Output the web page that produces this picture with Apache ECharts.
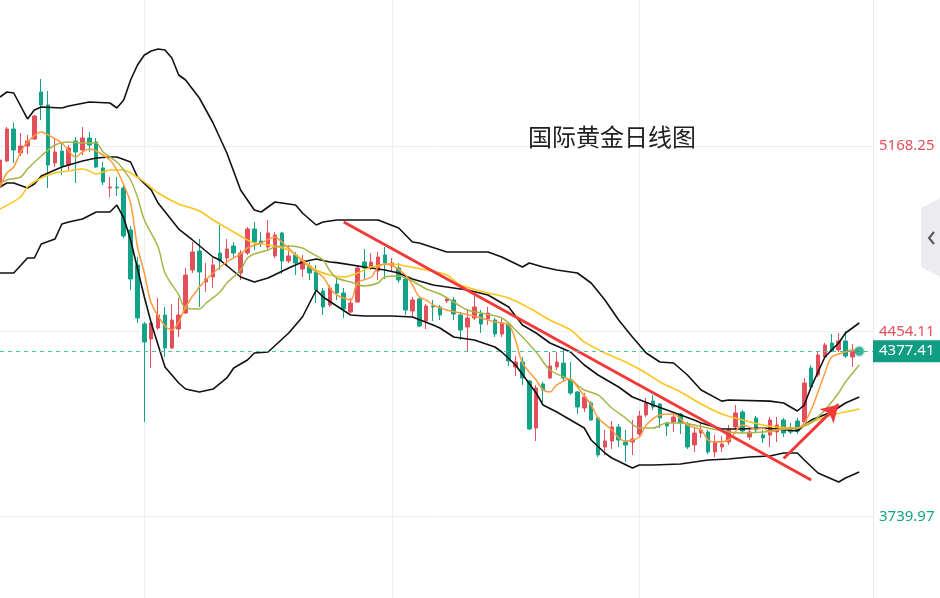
<!DOCTYPE html>
<html>
<head>
<meta charset="utf-8">
<script src="https://cdn.jsdelivr.net/npm/echarts@6/dist/echarts.min.js"></script>
<style>html,body{margin:0;padding:0;background:#fff}#c{width:940px;height:598px}</style>
</head>
<body>
<div id="c"></div>
<script>
// ---- data ----
const title = '国际黄金日线图';
const priceTicks = [3739.97, 4454.11, 5168.25];
const lastPrice = 4377.41;
// [open, close, low, high]
const ohlc = [
[5010.9,5115.0,5007.0,5122.7],[5111.2,5234.6,5107.3,5242.3],[5234.6,5153.6,5103.4,5257.8],[5142.0,5169.0,5130.5,5219.2],
[5169.0,5188.3,5138.2,5211.5],[5196.0,5284.8,5192.2,5288.6],[5377.4,5327.2,5269.3,5427.5],[5327.2,5095.7,5007.0,5381.2],
[5103.4,5145.9,5088.0,5199.9],[5149.7,5091.9,5057.2,5184.5],[5095.7,5161.3,5076.4,5172.9],[5188.3,5145.9,5026.3,5203.8],
[5153.6,5199.9,5134.3,5242.3],[5199.9,5172.9,5145.9,5223.1],[5184.5,5088.0,5084.2,5199.9],[5084.2,5030.1,5018.6,5107.3],
[5007.0,5010.9,4972.3,5049.4],[5010.9,5007.0,4976.1,5049.4],[5007.0,4821.8,4814.1,5022.4],[4845.0,4656.0,4613.5,4860.4],
[4709.9,4505.5,4486.2,4740.8],[4482.3,4412.9,4104.2,4490.0],[4424.4,4486.2,4312.6,4490.0],[4466.9,4517.0,4459.2,4582.6],
[4517.0,4389.7,4355.0,4547.9],[4389.7,4497.7,4385.9,4559.5],[4463.0,4517.0,4432.2,4582.6],[4524.7,4671.4,4520.9,4698.4],
[4690.6,4760.1,4679.1,4798.7],[4763.9,4682.9,4547.9,4810.2],[4644.3,4655.9,4605.8,4717.7],[4663.6,4709.9,4621.2,4737.0],
[4756.2,4725.4,4690.6,4864.2],[4737.0,4771.7,4709.9,4810.2],[4783.2,4756.2,4740.8,4798.7],[4679.1,4756.2,4652.1,4767.8],
[4756.2,4848.8,4748.5,4856.5],[4848.8,4798.7,4767.8,4875.8],[4802.5,4794.8,4779.4,4837.2],[4779.4,4833.4,4771.7,4883.5],
[4744.7,4825.7,4737.0,4837.2],[4833.4,4725.4,4675.2,4837.2],[4725.4,4744.7,4717.7,4787.1],[4748.5,4717.7,4671.4,4760.1],
[4694.5,4729.2,4663.6,4748.5],[4706.1,4679.1,4652.1,4721.5],[4682.9,4613.5,4563.3,4709.9],[4609.6,4547.9,4517.0,4621.2],
[4555.6,4621.2,4547.9,4632.8],[4636.6,4602.0,4574.9,4663.6],[4602.0,4540.2,4505.5,4621.2],[4528.6,4563.3,4524.7,4582.6],
[4567.2,4698.4,4563.3,4706.1],[4721.5,4698.4,4655.9,4771.7],[4698.4,4721.5,4690.6,4756.2],[4686.8,4740.8,4652.1,4760.1],
[4748.5,4717.7,4655.9,4779.4],[4706.1,4717.7,4682.9,4737.0],[4698.4,4652.1,4640.5,4717.7],[4655.9,4536.3,4517.0,4663.6],
[4532.5,4574.9,4505.5,4586.5],[4578.8,4474.6,4470.7,4586.5],[4493.9,4551.8,4463.0,4559.5],[4551.8,4547.9,4493.9,4574.9],
[4547.9,4517.0,4497.7,4555.6],[4571.0,4578.8,4563.3,4586.5],[4574.9,4520.9,4497.7,4586.5],[4517.0,4459.2,4420.6,4528.6],
[4470.7,4505.5,4374.3,4536.3],[4505.5,4547.9,4497.7,4590.3],[4520.9,4482.3,4447.6,4536.3],[4501.6,4524.7,4478.5,4547.9],
[4497.7,4443.7,4432.2,4505.5],[4443.7,4486.2,4432.2,4501.6],[4482.3,4339.6,4320.3,4490.0],[4316.4,4335.7,4281.7,4358.9],
[4335.7,4274.0,4247.0,4355.0],[4262.4,4077.2,4073.4,4266.3],[4081.1,4235.4,4030.9,4247.0],[4250.9,4227.7,4181.4,4258.6],
[4274.0,4320.3,4270.2,4374.3],[4316.4,4335.7,4304.8,4374.3],[4331.8,4274.0,4258.6,4389.7],[4266.3,4216.1,4208.4,4335.7],
[4220.0,4162.1,4135.1,4223.8],[4158.2,4200.7,4142.8,4216.1],[4177.5,4111.9,4108.1,4185.2],[4119.6,3976.9,3969.2,4123.5],
[4007.8,4030.9,3976.9,4073.4],[4030.9,4085.0,4000.1,4108.1],[4085.0,4034.8,4007.8,4096.5],[4027.1,4015.5,3950.0,4073.4],
[4027.1,4038.7,3976.9,4111.9],[4057.9,4127.4,4050.2,4146.7],[4131.2,4177.5,4123.5,4196.8],[4185.2,4162.1,4150.5,4208.4],
[4173.7,4119.6,4081.1,4177.5],[4100.4,4088.8,4050.2,4104.2],[4104.2,4123.5,4065.6,4135.1],[4135.1,4100.4,4057.9,4139.0],
[4096.5,4007.8,4000.1,4104.2],[4015.5,4061.8,3988.5,4085.0],[4061.8,4073.4,4042.5,4104.2],[4065.6,3988.5,3980.8,4073.4],
[3988.5,4027.1,3969.2,4054.1],[4007.8,4019.3,3988.5,4050.2],[4027.1,4073.4,4015.5,4092.7],[4085.0,4139.0,4073.4,4169.8],
[4142.8,4069.5,4061.8,4150.5],[4046.3,4065.6,4034.8,4085.0],[4119.6,4073.4,4061.8,4127.4],[4054.1,4042.5,4023.2,4073.4],
[4054.1,4111.9,4007.8,4123.5],[4065.6,4092.7,4027.1,4123.5],[4111.9,4061.8,4046.3,4119.6],[4073.4,4065.6,4057.9,4100.4],
[4108.1,4069.5,4057.9,4119.6],[4104.2,4254.7,4100.4,4274.0],[4312.6,4239.3,4235.4,4324.1],[4285.6,4362.7,4277.9,4378.1],
[4355.0,4401.3,4351.1,4409.0],[4409.0,4378.1,4374.3,4443.7],[4382.0,4416.7,4374.3,4447.6],[4416.7,4358.9,4351.1,4454.11],
[4355.0,4377.41,4316.4,4405.1]
];
// indicator lines: [candle index, price]
const bollUpper = [[0,5358.1],[1,5377.4],[2,5373.5],[4,5273.2],[5,5307.9],[6,5319.5],[9,5315.6],[10,5323.4],[13,5338.8],[16,5334.9],[17,5315.6],[18,5346.5],[19,5423.7],[20,5481.5],[21,5520.1],[22,5535.5],[23,5543.2],[24,5539.4],[25,5508.5],[26,5443.0],[27,5423.7],[29,5354.2],[31,5257.8],[33,5142.0],[35,4999.3],[37,4922.1],[38,4914.4],[40,4953.0],[43,4941.4],[44,4910.5],[46,4864.2],[47,4875.8],[49,4883.5],[55,4883.5],[58,4852.7],[60,4798.7],[61,4794.8],[65,4760.1],[71,4760.1],[73,4740.8],[76,4702.2],[77,4717.7],[79,4702.2],[81,4690.6],[84,4679.1],[86,4640.5],[88,4574.9],[90,4497.7],[92,4432.2],[94,4370.4],[96,4335.7],[98,4331.8],[100,4285.6],[102,4227.7],[105,4184.9],[106,4189.1],[112,4184.9],[114,4177.5],[116,4146.7],[117,4169.8],[118,4239.3],[120,4355.0],[122,4409.0],[123,4447.6],[125,4486.2]];
const bollMid = [[0,5010.9],[1,5026.3],[2,5026.3],[4,5007.0],[5,5022.4],[6,5053.3],[7,5064.9],[9,5088.0],[11,5103.4],[12,5111.2],[14,5122.7],[16,5126.6],[17,5126.6],[19,5107.3],[20,5049.4],[22,4999.3],[23,4949.1],[26,4848.8],[28,4806.4],[31,4740.8],[32,4729.2],[35,4663.6],[37,4644.3],[39,4659.8],[42,4698.4],[44,4721.5],[46,4732.9],[48,4721.5],[49,4719.0],[53,4702.2],[56,4690.6],[58,4679.1],[60,4655.9],[63,4632.8],[68,4613.5],[71,4594.2],[74,4547.9],[76,4478.5],[78,4447.6],[80,4409.0],[83,4374.3],[85,4324.1],[87,4285.6],[90,4239.3],[92,4200.7],[95,4169.8],[97,4150.5],[99,4131.2],[101,4111.9],[102,4100.4],[105,4077.2],[108,4077.2],[111,4081.1],[113,4077.2],[116,4069.5],[118,4111.9],[121,4142.8],[123,4177.5],[125,4200.7]];
const bollLower = [[0,4679.1],[2,4679.1],[4,4736.9],[5,4736.9],[6,4790.9],[8,4810.2],[9,4868.1],[10,4875.8],[12,4887.4],[14,4914.4],[16,4914.4],[17,4941.4],[18,4891.3],[19,4806.4],[21,4586.5],[22,4486.2],[24,4316.4],[26,4254.7],[27,4231.5],[29,4220.0],[31,4231.5],[33,4274.0],[34,4312.6],[36,4343.4],[37,4370.4],[39,4374.3],[42,4447.6],[44,4509.3],[46,4613.5],[47,4586.5],[49,4551.8],[51,4517.0],[53,4513.1],[57,4513.1],[60,4509.3],[63,4478.5],[64,4466.9],[66,4432.2],[69,4420.6],[72,4393.6],[73,4374.3],[75,4324.1],[78,4216.1],[79,4169.8],[81,4142.8],[83,4111.9],[85,4081.1],[86,4034.8],[88,3984.6],[89,3965.3],[92,3926.7],[93,3938.3],[95,3938.3],[99,3942.2],[101,3949.9],[103,3957.6],[106,3961.5],[109,3969.2],[112,3973.1],[114,3984.6],[116,3984.6],[117,3957.6],[119,3907.5],[122,3872.8],[123,3888.2],[125,3911.3]];
const ma5 = [[0,5010.9],[1,5065.0],[2,5088.0],[3,5145.9],[4,5184.5],[6,5223.1],[7,5211.5],[9,5180.6],[11,5126.6],[12,5145.9],[13,5157.5],[14,5149.7],[16,5115.0],[17,5076.4],[18,5018.6],[19,4949.1],[20,4779.4],[21,4679.1],[22,4563.3],[24,4474.6],[25,4459.2],[26,4490.0],[27,4547.9],[29,4625.1],[31,4679.1],[33,4721.5],[35,4752.4],[36,4775.6],[38,4794.8],[40,4817.9],[41,4798.7],[43,4748.5],[45,4702.2],[47,4663.6],[48,4621.2],[49,4594.2],[51,4574.9],[52,4640.5],[54,4663.6],[55,4702.2],[56,4713.8],[57,4710.0],[59,4671.4],[60,4632.8],[61,4586.5],[62,4574.9],[63,4555.6],[65,4536.3],[67,4524.7],[69,4513.1],[71,4497.7],[72,4490.0],[74,4478.5],[75,4420.6],[76,4332.0],[78,4266.3],[79,4227.7],[80,4220.0],[81,4247.0],[83,4270.1],[84,4239.3],[86,4169.8],[87,4119.6],[89,4073.4],[90,4042.5],[91,4030.9],[93,4046.3],[94,4092.7],[96,4131.2],[98,4135.1],[99,4115.8],[100,4092.7],[102,4073.4],[103,4034.8],[104,4027.1],[106,4034.8],[108,4092.7],[110,4077.2],[111,4081.1],[112,4065.6],[114,4081.1],[116,4081.1],[117,4100.4],[118,4150.5],[119,4219.9],[120,4293.3],[121,4355.0],[123,4374.3],[124,4382.0],[125,4382.0]];
const ma10 = [[0,5022.4],[1,5037.9],[3,5049.4],[4,5080.3],[6,5130.5],[8,5172.9],[10,5184.5],[12,5180.6],[14,5180.6],[15,5145.9],[17,5107.3],[18,5076.4],[19,5037.9],[20,4972.3],[21,4883.5],[23,4779.4],[24,4679.1],[26,4594.2],[27,4544.0],[29,4540.2],[30,4563.3],[32,4605.8],[33,4640.5],[35,4690.6],[36,4737.0],[37,4752.4],[39,4767.8],[40,4779.4],[42,4783.2],[44,4775.6],[45,4760.1],[47,4729.2],[48,4686.8],[49,4659.8],[51,4644.3],[53,4628.9],[55,4640.5],[56,4663.6],[58,4667.5],[60,4648.2],[62,4617.3],[64,4598.1],[66,4567.2],[68,4536.3],[70,4524.7],[73,4505.5],[75,4459.2],[78,4374.3],[80,4304.8],[83,4266.3],[85,4227.7],[87,4208.4],[89,4158.2],[91,4119.6],[93,4081.1],[95,4081.1],[97,4100.4],[99,4100.4],[101,4092.7],[103,4081.1],[106,4065.6],[108,4061.8],[111,4065.6],[113,4073.4],[116,4081.1],[118,4100.4],[120,4150.5],[122,4216.1],[123,4258.6],[125,4324.1]];
const ma30 = [[0,4926.0],[3,4972.3],[4,5010.9],[6,5045.6],[8,5064.9],[10,5072.6],[12,5080.3],[13,5072.6],[14,5061.0],[16,5076.4],[18,5076.4],[19,5064.9],[21,5030.1],[23,4987.7],[26,4945.3],[29,4918.3],[31,4883.5],[34,4837.2],[36,4806.4],[37,4794.8],[39,4787.1],[42,4767.8],[44,4729.2],[46,4690.6],[48,4671.4],[50,4663.6],[52,4679.1],[54,4702.2],[57,4713.8],[59,4706.1],[62,4690.6],[65,4671.4],[67,4632.8],[71,4602.0],[74,4582.6],[77,4544.0],[80,4497.7],[83,4459.2],[85,4412.9],[88,4370.4],[91,4335.7],[94,4293.3],[96,4258.6],[99,4220.0],[102,4173.7],[105,4135.1],[108,4111.9],[111,4092.7],[113,4085.0],[116,4081.1],[118,4104.2],[121,4131.2],[123,4142.8],[125,4154.4]];
// hand-drawn annotations: [candle index, price]
const trendLine = [[50,4875.8],[118,3880.5]];
const arrowLine = [[114,3963.4],[122,4172.0]];
const slotCount = 128;
const gridEvery = 36, gridFirst = 21;

// ---- styles ----
const RED = '#e2505c', GREEN = '#12a386';
const categories = Array.from({length: slotCount}, (_, i) => String(i));
const FONT = '"Noto Sans", "Open Sans", sans-serif';

const chart = echarts.init(document.getElementById('c'), null, {renderer: 'canvas'});
const annStyle = {color: '#f23a3a', width: 3, type: 'solid'};
chart.setOption({
  animation: false,
  backgroundColor: '#ffffff',
  title: {
    text: title, left: 523, top: 120,
    textStyle: {fontSize: 24, fontWeight: 'normal', color: '#222', fontFamily: '"Noto Sans CJK SC", sans-serif'}
  },
  grid: {left: -0.88, right: 67, top: 0, bottom: 0, containLabel: false},
  xAxis: {
    type: 'category', data: categories, boundaryGap: false,
    axisLine: {show: false}, axisTick: {show: false}, axisLabel: {show: false},
    splitLine: {show: true, interval: (i) => i % gridEvery === gridFirst, lineStyle: {color: '#eeeef1', width: 1}}
  },
  yAxis: {
    type: 'value', position: 'right', min: 3425.2, max: 5732.3, scale: true,
    axisLine: {show: true, lineStyle: {color: '#e9e9ed'}},
    axisTick: {show: false, customValues: priceTicks},
    axisLabel: {
      customValues: priceTicks, margin: 6, fontSize: 15, fontFamily: FONT,
      formatter: (v) => Number(v).toFixed(2),
      color: (v) => Number(v) < 4000 ? GREEN : RED
    },
    splitLine: {show: true, lineStyle: {color: '#eeeef1', width: 1}}
  },
  series: [
    {
      type: 'candlestick', data: ohlc, barWidth: 4, clip: true,
      itemStyle: {color: RED, color0: GREEN, borderColor: RED, borderColor0: GREEN, borderWidth: 1},
      markLine: {
        silent: true, symbol: ['none', 'none'], animation: false,
        label: {show: false},
        lineStyle: annStyle,
        data: [
          [{coord: trendLine[0], lineStyle: annStyle}, {coord: trendLine[1], lineStyle: annStyle}],
          [{coord: arrowLine[0], lineStyle: annStyle, symbol: 'none'}, {coord: arrowLine[1], lineStyle: annStyle, symbol: 'arrow', symbolSize: [15, 17]}]
        ]
      }
    },
    {type: 'line', data: bollUpper, showSymbol: false, symbol: 'none', lineStyle: {color: '#111', width: 1.6}, z: 3},
    {type: 'line', data: bollMid, showSymbol: false, symbol: 'none', lineStyle: {color: '#111', width: 1.6}, z: 3},
    {type: 'line', data: bollLower, showSymbol: false, symbol: 'none', lineStyle: {color: '#111', width: 1.6}, z: 3},
    {type: 'line', data: ma30, showSymbol: false, symbol: 'none', smooth: 0.3, lineStyle: {color: '#fcc419', width: 1.5}, z: 3},
    {type: 'line', data: ma10, showSymbol: false, symbol: 'none', smooth: 0.3, lineStyle: {color: '#a7b548', width: 1.5}, z: 3},
    {type: 'line', data: ma5, showSymbol: false, symbol: 'none', smooth: 0.3, lineStyle: {color: '#ff9a3d', width: 1.5}, z: 3},
    {type: 'scatter', data: [[slotCount - 3, lastPrice]], symbolSize: 9, z: 5,
     itemStyle: {color: '#13a386', borderColor: 'rgba(19,163,134,0.3)', borderWidth: 3},
     markLine: {
       silent: true, symbol: ['none', 'none'], animation: false,
       lineStyle: {type: [4, 4], color: '#4cc2aa', width: 1},
       label: {show: true, position: 'end', distance: 0, formatter: lastPrice.toFixed(2),
               backgroundColor: '#0f9e83', color: '#fff', padding: [4, 6, 3, 6], fontSize: 15, fontFamily: FONT},
       data: [{yAxis: lastPrice}]
     }}
  ],
  graphic: [
    {type: 'polygon', shape: {points: [[940, 198], [921, 208], [921, 267], [940, 277]]}, style: {fill: '#ececf0'}, z: 10},
    {type: 'polyline', shape: {points: [[934, 232], [929, 238], [934, 244]]}, style: {stroke: '#555', lineWidth: 2, fill: null}, z: 11}
  ]
});
</script>
</body>
</html>
